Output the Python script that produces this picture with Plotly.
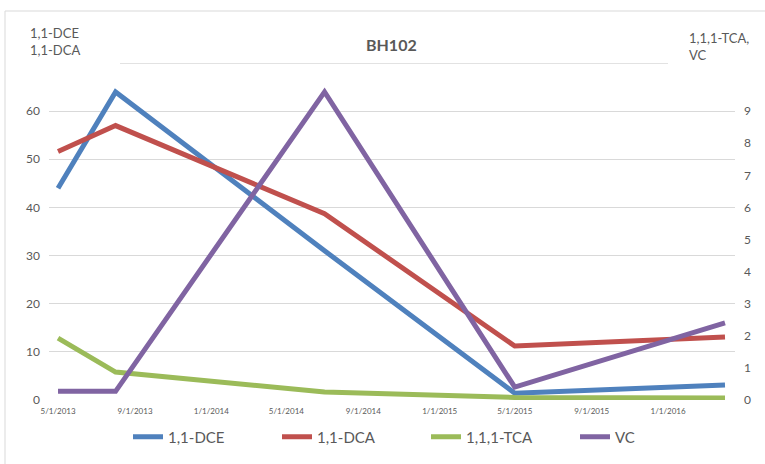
import plotly.graph_objects as go

# Sampling dates and concentrations for well BH102
dates = ["2013-05-01", "2013-08-01", "2014-07-01", "2015-05-01", "2016-04-01"]
dce = [44, 64, 31, 1.4, 3.1]        # 1,1-DCE (left axis)
dca = [51.6, 57, 38.7, 11.2, 13.1]  # 1,1-DCA (left axis)
tca = [1.93, 0.87, 0.25, 0.08, 0.06]  # 1,1,1-TCA (right axis)
vc = [0.27, 0.27, 9.6, 0.4, 2.4]    # VC (right axis)

tick_dates = ["2013-05-01", "2013-09-01", "2014-01-01", "2014-05-01", "2014-09-01",
              "2015-01-01", "2015-05-01", "2015-09-01", "2016-01-01"]
tick_labels = ["5/1/2013", "9/1/2013", "1/1/2014", "5/1/2014", "9/1/2014",
               "1/1/2015", "5/1/2015", "9/1/2015", "1/1/2016"]

W, H = 765, 464
L, R, T, B = 49, 30, 63, 64
pw, ph = W - L - R, H - T - B

def px(x):
    return (x - L) / pw

def py(y):
    return (H - B - y) / ph

GRID = "#d9d9d9"
TXT = "#595959"
FONT = "Lato, 'Open Sans', sans-serif"

fig = go.Figure()
series = [
    ("1,1-DCE", dce, "#4F81BD", "y"),
    ("1,1-DCA", dca, "#C0504D", "y"),
    ("1,1,1-TCA", tca, "#9BBB59", "y2"),
    ("VC", vc, "#8064A2", "y2"),
]
for name, vals, col, ax in series:
    fig.add_trace(go.Scatter(
        x=dates, y=vals, name=name, mode="lines", yaxis=ax,
        line=dict(color=col, width=5),
    ))

fig.update_layout(
    width=W, height=H,
    margin=dict(l=L, r=R, t=T, b=B, autoexpand=False),
    paper_bgcolor="white", plot_bgcolor="white",
    font=dict(family=FONT, color=TXT),
    showlegend=True,
    legend=dict(orientation="h", x=128 / W, xanchor="left", xref="container",
                y=(H - 437) / H, yanchor="middle", yref="container",
                font=dict(size=15, color=TXT), itemwidth=30,
                entrywidth=104, entrywidthmode="pixels"),
    xaxis=dict(
        type="date", range=["2013-04-16 14:00", "2016-04-17"],
        tickvals=tick_dates, ticktext=tick_labels,
        tickfont=dict(size=8, color=TXT), showgrid=False, zeroline=False,
        showline=False, ticks="", ticklabelstandoff=5,
    ),
    yaxis=dict(
        range=[0, 70], tickvals=[0, 10, 20, 30, 40, 50, 60],
        showgrid=True, gridcolor=GRID, gridwidth=1.3, zeroline=False,
        tickfont=dict(size=12, color=TXT), ticks="", ticklabelstandoff=8,
    ),
    yaxis2=dict(
        range=[0, 10.5], tickvals=list(range(10)), overlaying="y", side="right",
        showgrid=False, zeroline=False, tickfont=dict(size=12, color=TXT),
        ticks="", ticklabelstandoff=8,
    ),
    shapes=[
        # top gridline, interrupted by the axis titles
        dict(type="line", xref="paper", yref="y", x0=px(120), x1=px(668), y0=70, y1=70,
             line=dict(color=GRID, width=1.3), layer="below"),
        # chart border
        dict(type="line", xref="paper", yref="paper", x0=px(5), x1=px(766), y0=py(11), y1=py(11),
             line=dict(color=GRID, width=1)),
        dict(type="line", xref="paper", yref="paper", x0=px(5), x1=px(5), y0=py(11), y1=py(466),
             line=dict(color=GRID, width=1)),
    ],
    annotations=[
        dict(text="<b>BH102</b>", xref="paper", yref="paper", x=px(391), y=py(45),
             showarrow=False, font=dict(size=16, color=TXT), xanchor="center", yanchor="middle"),
        dict(text="1,1-DCE<br>1,1-DCA", xref="paper", yref="paper", x=px(28), y=py(42),
             showarrow=False, font=dict(size=13, color=TXT), xanchor="left", yanchor="middle",
             align="left"),
        dict(text="1,1,1-TCA,<br>VC", xref="paper", yref="paper", x=px(687), y=py(47),
             showarrow=False, font=dict(size=13, color=TXT), xanchor="left", yanchor="middle",
             align="left"),
    ],
)

fig.write_html("out.html")
